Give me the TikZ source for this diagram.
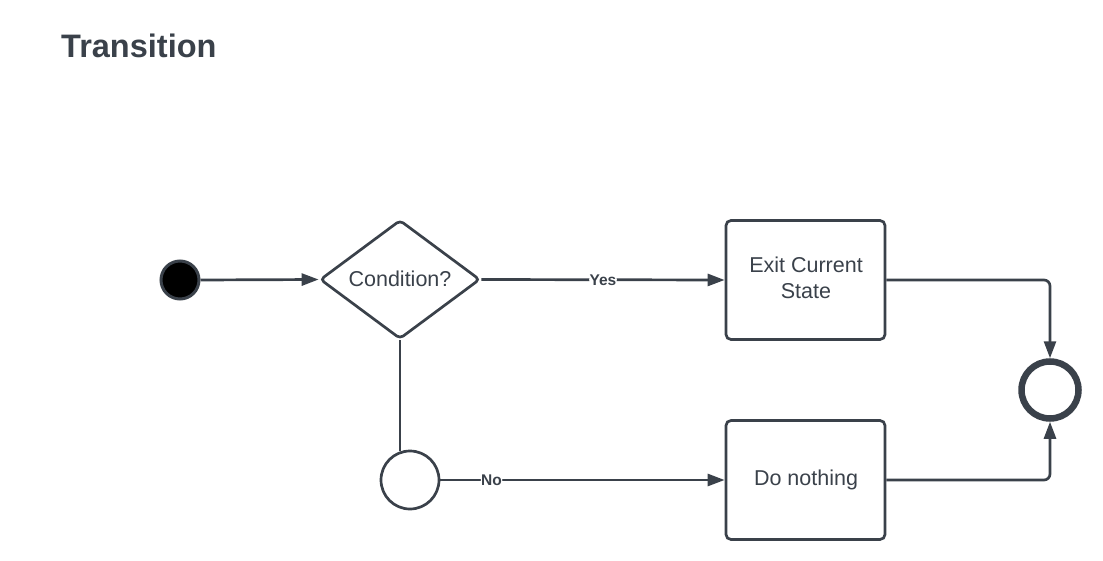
\documentclass[tikz,border=0pt]{standalone}
\usepackage{fontspec}
\setmainfont{Liberation Sans}
\usetikzlibrary{arrows.meta,shapes.geometric}
\definecolor{ink}{HTML}{3A414A}
\tikzset{
  boxnode/.style={draw=ink, line width=2.7pt, rounded corners=5pt, align=center, text=ink, inner sep=0pt},
  condnode/.style={diamond, draw=ink, line width=2.7pt, rounded corners=4pt, minimum width=160pt, minimum height=119pt, aspect=1.35, inner sep=0pt},
  bodytext/.style={text=ink, font=\fontsize{21.5}{26.5}\selectfont, align=center, inner sep=0pt},
  conn/.style={draw=ink, line width=2.7pt, -{Triangle[length=17pt,width=12pt]}, rounded corners=6pt},
  plainconn/.style={draw=ink, line width=2.7pt},
  lbl/.style={fill=white, inner sep=0.5pt, text=ink, font=\bfseries\fontsize{15.5}{18}\selectfont}
}
\begin{document}
\begin{tikzpicture}[x=1pt,y=-1pt]
\useasboundingbox (0,0) rectangle (1103,561);
\node[anchor=base west, text=ink, font=\bfseries\fontsize{32.5}{38}\selectfont, inner sep=0pt] (title) at (61,58) {Transition};

\node[circle, fill=black, draw=ink, line width=3pt, minimum size=38pt, inner sep=0pt] (start) at (180,280) {};
\node[condnode] (cond) at (400,279.5) {};
\node[bodytext] (condtxt) at (400,278.5) {Condition?};
\node[boxnode, minimum width=159pt, minimum height=119pt] (exit) at (805.5,280) {};
\node[bodytext] (exittxt) at (806,278) {Exit Current\\State};
\node[boxnode, minimum width=159pt, minimum height=119pt] (nothing) at (805.5,480) {};
\node[bodytext] (nothingtxt) at (806,480) {Do nothing};
\node[circle, draw=ink, line width=2.7pt, fill=white, minimum size=58pt, inner sep=0pt] (merge) at (410,480) {};
\node[circle, draw=ink, line width=6.5pt, minimum size=57pt, inner sep=0pt] (final) at (1050,390) {};

\coordinate (mergetop) at (400,451);
\draw[conn] (start.east) -- (cond.west);
\draw[conn] (cond.east) -- node[lbl, pos=0.5] {Yes} (exit.west);
\draw[plainconn] (cond.south) -- (mergetop);
\draw[conn] (merge.east) -- node[lbl, pos=0.18] {No} (nothing.west);
\draw[conn] (exit.east) -- (final.north |- exit.east) -- (final.north);
\draw[conn] (nothing.east) -- (final.south |- nothing.east) -- (final.south);
\end{tikzpicture}
\end{document}
